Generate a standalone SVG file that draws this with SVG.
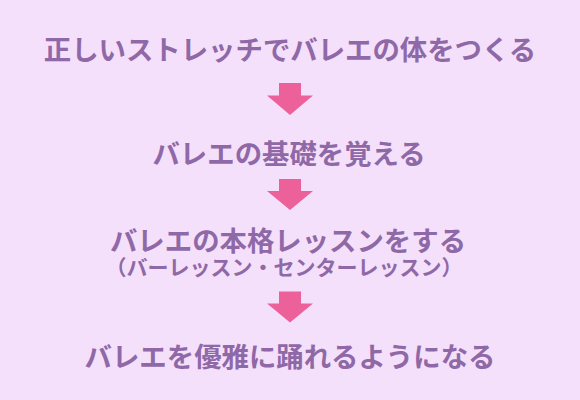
<svg xmlns="http://www.w3.org/2000/svg" width="580" height="400" viewBox="0 0 580 400">
<style>
.t{font-family:"Noto Sans CJK JP","Noto Sans CJK SC",sans-serif;font-weight:bold;fill:#8f69a7;text-anchor:middle;dominant-baseline:central}
.big{font-size:27.4px}
.small{font-size:21px}
.arr{fill:#ec6199}
</style>
<rect width="580" height="400" fill="#f5e0fb"/>
<g id="step1"><text class="t big" x="290" y="47.5">正しいストレッチでバレエの体をつくる</text></g>
<g id="step2"><text class="t big" x="289" y="151.5">バレエの基礎を覚える</text></g>
<g id="step3"><text class="t big" x="288" y="238.5">バレエの本格レッスンをする</text><text class="t small" x="284" y="266">（バーレッスン・センターレッスン）</text></g>
<g id="step4"><text class="t big" x="290" y="354.5">バレエを優雅に踊れるようになる</text></g>
<g id="connectors">
<polygon class="arr" points="279,83 301,83 301,95.5 313,95.5 290,115 267,95.5 279,95.5"/>
<polygon class="arr" points="279,179 301,179 301,191 313,191 290,210 267,191 279,191"/>
<polygon class="arr" points="279,291.5 301,291.5 301,303.5 313,303.5 290,322.5 267,303.5 279,303.5"/>
</g>
</svg>
